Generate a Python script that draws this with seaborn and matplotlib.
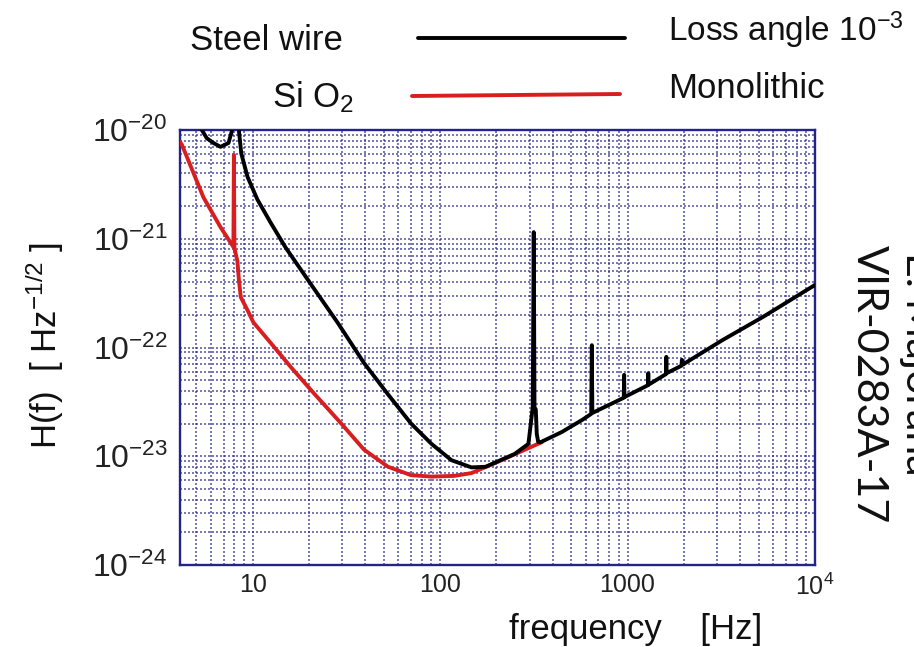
import matplotlib
matplotlib.use("Agg")
import matplotlib.pyplot as plt
import pandas as pd
import seaborn as sns
from matplotlib.lines import Line2D
from matplotlib.ticker import FixedLocator, FixedFormatter, LogLocator, NullFormatter

# ---- data ----
steel_freq = [4.9, 5.27, 5.7, 6.18, 6.74, 7.44, 7.9, 8.1, 8.4, 8.7, 9.4, 10.6, 12.5, 15.0,
              20.4, 28.5, 39.3, 52.8, 70, 90, 115, 147, 175, 213, 250, 296,
              312, 316, 319, 324, 328, 334, 345, 446, 571,
              640, 645, 649, 955, 959, 963, 1285, 1290, 1295, 1605, 1610, 1615,
              1940, 1950, 1990, 2033, 3211, 5250, 10000]
steel_h = [1.6e-20, 1.05e-20, 8.4e-21, 7.6e-21, 7.0e-21, 7.6e-21, 1.1e-20, 1e-18, 1.1e-20, 6.1e-21,
           3.7e-21, 2.3e-21, 1.4e-21, 8.3e-22,
           3.85e-22, 1.68e-22, 7.2e-23, 3.7e-23, 2.0e-23, 1.3e-23, 9.2e-24, 7.9e-24, 8.0e-24, 9.3e-24,
           1.05e-23, 1.3e-23,
           2.8e-23, 1.15e-21, 2.8e-23, 2.7e-23, 1.6e-23, 1.35e-23, 1.35e-23, 1.67e-23, 2.15e-23,
           2.45e-23, 1.05e-22, 2.5e-23, 3.45e-23, 5.6e-23, 3.5e-23, 4.5e-23, 5.8e-23, 4.55e-23,
           5.7e-23, 8.2e-23, 5.8e-23,
           6.8e-23, 7.7e-23, 7.0e-23, 7.2e-23, 1.17e-22, 1.9e-22, 3.76e-22]

silica_freq = [4.1, 4.2, 5.47, 6.74, 7.9, 7.95, 8.0, 8.3, 8.45, 8.65, 9.4, 10.1, 12.5, 16,
               21.2, 29.7, 39.3, 52.8, 70, 90, 119, 147, 213, 300, 350]
silica_h = [7.8e-21, 7.3e-21, 2.4e-21, 1.28e-21, 8.4e-22, 5.9e-21, 8.2e-22, 6.2e-22, 4.2e-22, 2.9e-22,
            2.2e-22, 1.7e-22, 1.1e-22, 6.6e-23,
            3.8e-23, 2.0e-23, 1.15e-23, 8.0e-24, 6.7e-24, 6.5e-24, 6.6e-24, 7.0e-24, 9.2e-24, 1.2e-23, 1.35e-23]

x_ticks = [10, 100, 1000, 10000]
x_tick_labels = ["10", "100", "1000", "$10^{4}$"]
y_ticks = [1e-24, 1e-23, 1e-22, 1e-21, 1e-20]
y_tick_labels = ["$10^{-24}$", "$10^{-23}$", "$10^{-22}$", "$10^{-21}$", "$10^{-20}$"]

series_labels = ["Steel wire", "Si O$_2$"]
series_notes = ["Loss angle $10^{-3}$", "Monolithic"]

# ---- style ----
sns.set_style("white")
plt.rcParams["font.family"] = ["Liberation Sans", "DejaVu Sans"]
plt.rcParams["mathtext.default"] = "regular"

W, H = 914, 647
fig = plt.figure(figsize=(W / 100, H / 100), dpi=100)
ax = fig.add_axes([180 / W, 1 - 565 / H, (815 - 180) / W, (565 - 130) / H])

navy = "#23238a"

df_red = pd.DataFrame({"f": silica_freq, "h": silica_h})
df_blk = pd.DataFrame({"f": steel_freq, "h": steel_h})

ax.set_xscale("log")
ax.set_yscale("log")
sns.lineplot(data=df_red, x="f", y="h", ax=ax, color="#d81e1e", lw=2.8,
             sort=False, estimator=None, zorder=3)
sns.lineplot(data=df_blk, x="f", y="h", ax=ax, color="black", lw=2.8,
             sort=False, estimator=None, zorder=4)

ax.set_xlim(4.1, 1e4)
ax.set_ylim(1e-24, 1e-20)

ax.xaxis.set_major_locator(FixedLocator(x_ticks))
ax.xaxis.set_major_formatter(FixedFormatter(x_tick_labels))
ax.xaxis.set_minor_locator(LogLocator(base=10, subs=range(2, 10), numticks=20))
ax.xaxis.set_minor_formatter(NullFormatter())
ax.yaxis.set_major_locator(FixedLocator(y_ticks))
ax.yaxis.set_major_formatter(FixedFormatter(y_tick_labels))
ax.yaxis.set_minor_locator(LogLocator(base=10, subs=range(2, 10), numticks=20))
ax.yaxis.set_minor_formatter(NullFormatter())

ax.grid(True, which="both", color=navy, linestyle=(0, (1.2, 1.2)), linewidth=1.2, alpha=0.72)
for s in ax.spines.values():
    s.set_color(navy)
    s.set_linewidth(1.7)
ax.tick_params(axis="both", which="major", direction="in", length=9, width=1.7, color=navy,
               top=False, right=False)
ax.tick_params(axis="both", which="minor", direction="in", length=6, width=1.4, color=navy,
               top=False, right=False)
ax.tick_params(axis="x", which="major", labelsize=18, pad=6, colors="#222222")
ax.tick_params(axis="y", which="major", labelsize=23, pad=9, colors="#222222")
ax.tick_params(axis="both", which="both", color=navy)
ax.set_xlabel("")
ax.set_ylabel("")

# ---- legend block above the plot ----
fig.text(190 / W, 1 - 41 / H, series_labels[0], fontsize=25, ha="left", va="center", color="#111111")
fig.add_artist(Line2D([418 / W, 625 / W], [1 - 38 / H, 1 - 38 / H], color="black", lw=2.8))
fig.text(668 / W, 1 - 30 / H, series_notes[0], fontsize=24, ha="left", va="center", color="#111111")
fig.text(272 / W, 1 - 97 / H, series_labels[1], fontsize=25, ha="left", va="center", color="#111111")
fig.add_artist(Line2D([412 / W, 620 / W], [1 - 96 / H, 1 - 94 / H], color="#d81e1e", lw=2.8))
fig.text(668 / W, 1 - 89 / H, series_notes[1], fontsize=25, ha="left", va="center", color="#111111")

# ---- axis titles ----
fig.text(45 / W, 1 - 345 / H, "H(f)  [ Hz$^{-1/2}$ ]", rotation=90, fontsize=25,
         ha="center", va="center", color="#111111")
fig.text(636 / W, 1 - 630 / H, "frequency    [Hz]", fontsize=25, ha="center", va="center",
         color="#111111")

# ---- side annotations ----
fig.text(869 / W, 1 - 245 / H, "VIR-0283A-17", rotation=-90, fontsize=31, ha="center", va="top",
         family=["Lato", "DejaVu Sans"], color="#111111")
fig.text(918 / W, 1 - 252 / H, "E. Majorana", rotation=-90, fontsize=31, ha="center", va="top",
         family=["Lato", "DejaVu Sans"], color="#111111")

fig.savefig("out.png", dpi=100, facecolor="white")
